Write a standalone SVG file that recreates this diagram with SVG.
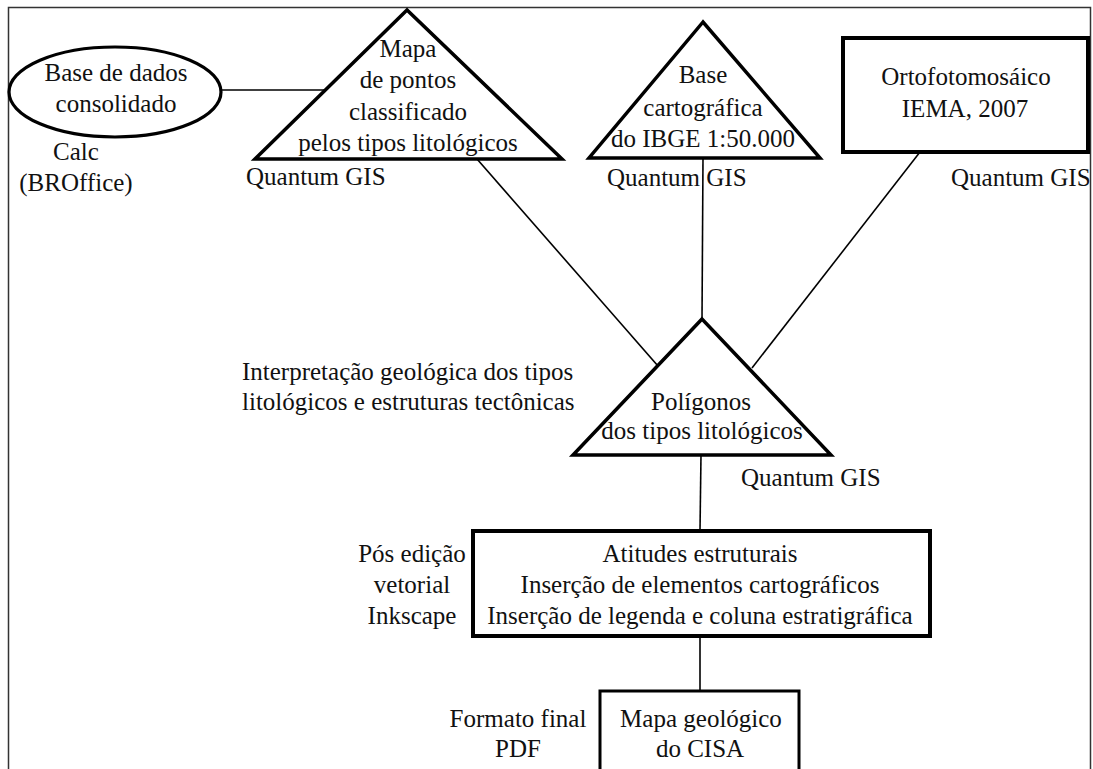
<svg xmlns="http://www.w3.org/2000/svg" width="1093" height="769" viewBox="0 0 1093 769">
<style>
text{font-family:'Liberation Serif','Times New Roman',Times,'Nimbus Roman','DejaVu Serif',serif;font-size:25px;fill:#111}
.c{text-anchor:middle}
.shape{fill:#fff;stroke:#000;stroke-width:3.5;stroke-linejoin:miter}
.rect{fill:#fff;stroke:#000;stroke-width:4}
.conn line{stroke:#000;stroke-width:1.6}
</style>
<rect x="0" y="0" width="1093" height="769" fill="#fff"/>
<path d="M8.5,769 V7.5 H1090.5 V769" fill="none" stroke="#333" stroke-width="1.5"/>
<g id="connectors" class="conn">
<line x1="221" y1="90" x2="326" y2="90"/>
<line x1="477" y1="159" x2="658" y2="366"/>
<line x1="703" y1="158" x2="702" y2="320"/>
<line x1="920" y1="152" x2="752" y2="368"/>
<line x1="701" y1="455" x2="700" y2="531"/>
<line x1="700" y1="636" x2="700" y2="691"/>
</g>
<g id="base-dados">
<ellipse cx="115" cy="92" rx="106" ry="45" fill="#fff" stroke="#000" stroke-width="3.2"/>
<text class="c" x="116" y="81">Base de dados</text>
<text class="c" x="116" y="112">consolidado</text>
<text class="c" x="76" y="160">Calc</text>
<text class="c" x="76" y="191">(BROffice)</text>
</g>
<g id="mapa-pontos">
<polygon class="shape" points="407,10 255,159 562,159"/>
<text class="c" x="408" y="57">Mapa</text>
<text class="c" x="408" y="88">de pontos</text>
<text class="c" x="408" y="120">classificado</text>
<text class="c" x="408" y="151">pelos tipos litológicos</text>
<text x="246" y="185">Quantum GIS</text>
</g>
<g id="base-cartografica">
<polygon class="shape" points="703,22 589,158 820,158"/>
<text class="c" x="703" y="83">Base</text>
<text class="c" x="703" y="116">cartográfica</text>
<text class="c" x="703" y="147">do IBGE 1:50.000</text>
<text x="607" y="186">Quantum GIS</text>
</g>
<g id="ortofoto">
<rect class="rect" x="843" y="38" width="245" height="114"/>
<text class="c" x="966" y="85">Ortofotomosáico</text>
<text class="c" x="965" y="117">IEMA, 2007</text>
<text x="951" y="186">Quantum GIS</text>
</g>
<g id="poligonos">
<polygon class="shape" points="702,319 573,455 831,455"/>
<text class="c" x="701" y="410">Polígonos</text>
<text class="c" x="702" y="439">dos tipos litológicos</text>
<text x="242" y="380">Interpretação geológica dos tipos</text>
<text x="242" y="410">litológicos e estruturas tectônicas</text>
<text x="741" y="486">Quantum GIS</text>
</g>
<g id="pos-edicao">
<rect class="rect" x="473" y="531" width="457" height="105"/>
<text class="c" x="700" y="562">Atitudes estruturais</text>
<text class="c" x="700" y="593">Inserção de elementos cartográficos</text>
<text class="c" x="700" y="624">Inserção de legenda e coluna estratigráfica</text>
<text class="c" x="412" y="562">Pós edição</text>
<text class="c" x="412" y="593">vetorial</text>
<text class="c" x="412" y="624">Inkscape</text>
</g>
<g id="mapa-geologico">
<rect x="600" y="691" width="199" height="100" fill="#fff" stroke="#000" stroke-width="3"/>
<text class="c" x="701" y="727">Mapa geológico</text>
<text class="c" x="700" y="757">do CISA</text>
<text class="c" x="518" y="727">Formato final</text>
<text class="c" x="518" y="757">PDF</text>
</g>
</svg>
